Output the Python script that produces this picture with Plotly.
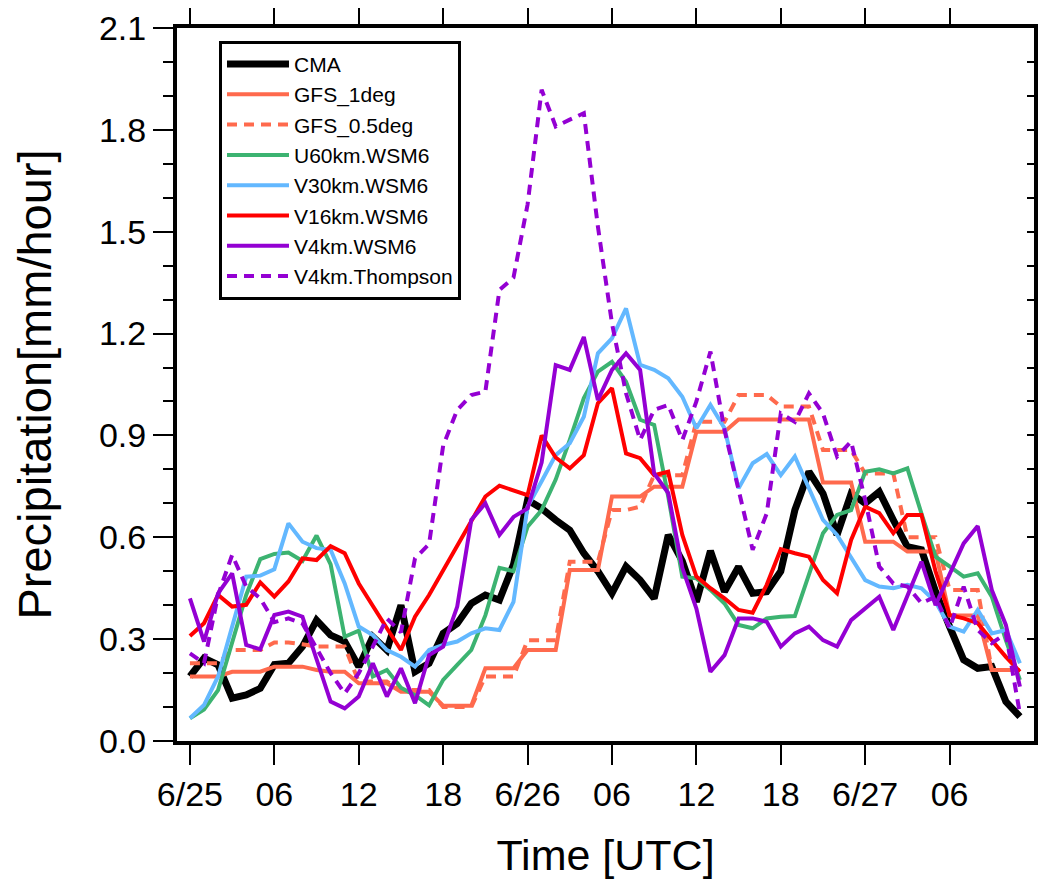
import plotly.graph_objects as go

# ---- data (hourly, starting 6/25 00 UTC) ----
hours = [0, 1, 2, 3, 4, 5, 6, 7, 8, 9, 10, 11, 12, 13, 14, 15, 16, 17, 18, 19,
         20, 21, 22, 23, 24, 25, 26, 27, 28, 29, 30, 31, 32, 33, 34, 35, 36, 37, 38, 39,
         40, 41, 42, 43, 44, 45, 46, 47, 48, 49, 50, 51, 52, 53, 54, 55, 56, 57, 58, 59]

tick_hours = [0, 6, 12, 18, 24, 30, 36, 42, 48, 54]
tick_labels = ["6/25", "06", "12", "18", "6/26", "06", "12", "18", "6/27", "06"]

cma = [0.19, 0.244, 0.224, 0.126, 0.136, 0.155, 0.225, 0.229, 0.278, 0.356,
       0.312, 0.293, 0.219, 0.307, 0.268, 0.40, 0.204, 0.229, 0.317, 0.346,
       0.405, 0.43, 0.415, 0.52, 0.71, 0.685, 0.651, 0.621, 0.553, 0.50,
       0.435, 0.514, 0.474, 0.42, 0.607, 0.53, 0.41, 0.56, 0.44, 0.513,
       0.435, 0.44, 0.50, 0.68, 0.793, 0.729, 0.607, 0.729, 0.70, 0.734,
       0.651, 0.572, 0.563, 0.44, 0.337, 0.239, 0.214, 0.219, 0.116, 0.072]

gfs_1deg = [0.19, 0.19, 0.19, 0.204, 0.204, 0.204, 0.219, 0.219, 0.219, 0.209,
            0.204, 0.204, 0.17, 0.17, 0.17, 0.145, 0.145, 0.145, 0.104, 0.104,
            0.104, 0.214, 0.214, 0.214, 0.268, 0.268, 0.268, 0.504, 0.504, 0.504,
            0.72, 0.72, 0.72, 0.749, 0.749, 0.749, 0.911, 0.911, 0.911, 0.947,
            0.947, 0.947, 0.947, 0.947, 0.947, 0.761, 0.761, 0.761, 0.587, 0.587,
            0.587, 0.558, 0.558, 0.558, 0.37, 0.37, 0.37, 0.209, 0.209, 0.209]

gfs_05deg = [0.229, 0.229, 0.229, 0.268, 0.268, 0.268, 0.29, 0.29, 0.285, 0.278,
             0.278, 0.278, 0.175, 0.175, 0.175, 0.15, 0.15, 0.15, 0.10, 0.10,
             0.10, 0.19, 0.19, 0.19, 0.297, 0.297, 0.297, 0.528, 0.528, 0.528,
             0.68, 0.68, 0.69, 0.783, 0.783, 0.783, 0.94, 0.94, 0.94, 1.019,
             1.019, 1.019, 0.985, 0.985, 0.985, 0.857, 0.857, 0.857, 0.788, 0.788,
             0.788, 0.60, 0.60, 0.60, 0.445, 0.445, 0.445, 0.209, 0.209, 0.209]

u60_wsm6 = [0.067, 0.093, 0.15, 0.29, 0.43, 0.536, 0.551, 0.555, 0.53, 0.605,
            0.52, 0.307, 0.325, 0.19, 0.209, 0.157, 0.135, 0.105, 0.18, 0.224,
            0.268, 0.37, 0.51, 0.50, 0.631, 0.68, 0.77, 0.887, 1.01, 1.088,
            1.117, 1.058, 0.946, 0.931, 0.72, 0.484, 0.479, 0.445, 0.405, 0.342,
            0.332, 0.361, 0.366, 0.368, 0.494, 0.612, 0.666, 0.68, 0.793, 0.80,
            0.788, 0.803, 0.67, 0.543, 0.514, 0.484, 0.494, 0.425, 0.297, 0.18]

v30_wsm6 = [0.067, 0.106, 0.19, 0.34, 0.484, 0.487, 0.506, 0.641, 0.587, 0.568,
            0.563, 0.464, 0.337, 0.312, 0.268, 0.248, 0.219, 0.268, 0.283, 0.293,
            0.317, 0.332, 0.327, 0.41, 0.69, 0.765, 0.842, 0.877, 0.955, 1.142,
            1.186, 1.274, 1.108, 1.093, 1.068, 1.014, 0.921, 0.99, 0.921, 0.744,
            0.818, 0.845, 0.783, 0.838, 0.744, 0.651, 0.607, 0.538, 0.474, 0.455,
            0.45, 0.46, 0.45, 0.41, 0.337, 0.322, 0.386, 0.317, 0.327, 0.229]

v16_wsm6 = [0.309, 0.347, 0.43, 0.396, 0.401, 0.467, 0.425, 0.47, 0.538, 0.533,
            0.574, 0.553, 0.464, 0.396, 0.332, 0.268, 0.366, 0.43, 0.504, 0.573,
            0.651, 0.72, 0.752, 0.739, 0.724, 0.90, 0.835, 0.803, 0.842, 0.995,
            1.039, 0.847, 0.833, 0.783, 0.793, 0.607, 0.484, 0.45, 0.42, 0.386,
            0.378, 0.46, 0.565, 0.553, 0.543, 0.474, 0.435, 0.592, 0.69, 0.671,
            0.612, 0.666, 0.666, 0.50, 0.371, 0.361, 0.347, 0.297, 0.248, 0.204]

v4_wsm6 = [0.42, 0.293, 0.435, 0.494, 0.283, 0.27, 0.371, 0.381, 0.366, 0.24,
           0.116, 0.096, 0.131, 0.229, 0.131, 0.214, 0.111, 0.253, 0.278, 0.396,
           0.651, 0.70, 0.607, 0.66, 0.685, 0.82, 1.107, 1.093, 1.19, 1.004,
           1.093, 1.142, 1.093, 0.788, 0.73, 0.51, 0.39, 0.204, 0.253, 0.361,
           0.361, 0.351, 0.278, 0.317, 0.337, 0.297, 0.278, 0.356, 0.391, 0.425,
           0.327, 0.425, 0.528, 0.40, 0.494, 0.582, 0.633, 0.445, 0.342, 0.16]

v4_thompson = [0.258, 0.229, 0.43, 0.548, 0.455, 0.42, 0.35, 0.361, 0.346, 0.273,
               0.20, 0.14, 0.20, 0.278, 0.361, 0.32, 0.538, 0.58, 0.87, 0.975,
               1.019, 1.029, 1.328, 1.365, 1.58, 1.918, 1.81, 1.83, 1.849, 1.515,
               1.23, 1.024, 0.887, 0.975, 0.99, 0.886, 1.0, 1.147, 0.916, 0.74,
               0.563, 0.67, 0.965, 0.94, 1.024, 0.965, 0.838, 0.882, 0.71, 0.514,
               0.464, 0.455, 0.406, 0.425, 0.332, 0.455, 0.327, 0.288, 0.317, 0.08]

series = [
    ("CMA", cma, "black", 7, "solid"),
    ("GFS_1deg", gfs_1deg, "#FF6A4D", 4, "solid"),
    ("GFS_0.5deg", gfs_05deg, "#FF6A4D", 4, "10px,7px"),
    ("U60km.WSM6", u60_wsm6, "#3CB371", 4, "solid"),
    ("V30km.WSM6", v30_wsm6, "#63B8FF", 4, "solid"),
    ("V16km.WSM6", v16_wsm6, "#FF0000", 4, "solid"),
    ("V4km.WSM6", v4_wsm6, "#9400D3", 4, "solid"),
    ("V4km.Thompson", v4_thompson, "#9400D3", 4, "10px,7px"),
]

FONT = "Liberation Sans, Arial, Helvetica, sans-serif"

fig = go.Figure()
for name, vals, color, width, dash in series:
    fig.add_trace(go.Scatter(
        x=hours, y=vals, mode="lines", name=name,
        line=dict(color=color, width=width, dash=dash),
    ))

# helper trace for the right-hand inward ticks
fig.add_trace(go.Scatter(x=[], y=[], yaxis="y2", showlegend=False, hoverinfo="skip"))

# page body has an 8px margin; size the figure so it fits the window exactly
fig.update_layout(
    width=1031, height=871,
    margin=dict(l=169, r=5, t=20, b=138),
    paper_bgcolor="white", plot_bgcolor="white",
    font=dict(family=FONT, color="black"),
    showlegend=True,
    legend=dict(
        x=0.049, y=0.982, xanchor="left", yanchor="top",
        bgcolor="white", bordercolor="black", borderwidth=3,
        font=dict(size=21, family=FONT, color="black"),
        itemwidth=62, tracegroupgap=0,
    ),
    xaxis=dict(
        range=[-0.92, 60.0], automargin=False,
        tickmode="array", tickvals=tick_hours, ticktext=tick_labels,
        ticks="outside", ticklen=20, tickwidth=2, tickcolor="black",
        showline=True, linewidth=4, linecolor="black", mirror="ticks",
        showgrid=False, zeroline=False,
        tickfont=dict(size=34, family=FONT),
        title=dict(text="Time [UTC]", font=dict(size=43, family=FONT), standoff=32),
    ),
    yaxis=dict(
        range=[0, 2.1], tick0=0, dtick=0.3, tickformat=".1f", automargin=False,
        ticks="outside", ticklen=20, tickwidth=2, tickcolor="black",
        minor=dict(dtick=0.1, ticks="outside", ticklen=10, tickwidth=2, tickcolor="black"),
        showline=True, linewidth=4, linecolor="black", mirror=True,
        showgrid=False, zeroline=False,
        tickfont=dict(size=34, family=FONT),
        title=dict(text="Precipitation[mm/hour]", font=dict(size=47, family=FONT), standoff=40),
    ),
    yaxis2=dict(
        overlaying="y", side="right", range=[0, 2.1], automargin=False,
        tick0=0, dtick=0.1, ticks="inside", ticklen=7, tickwidth=2, tickcolor="black",
        showticklabels=False, showgrid=False, zeroline=False, showline=False,
    ),
)

fig.write_html("out.html")
